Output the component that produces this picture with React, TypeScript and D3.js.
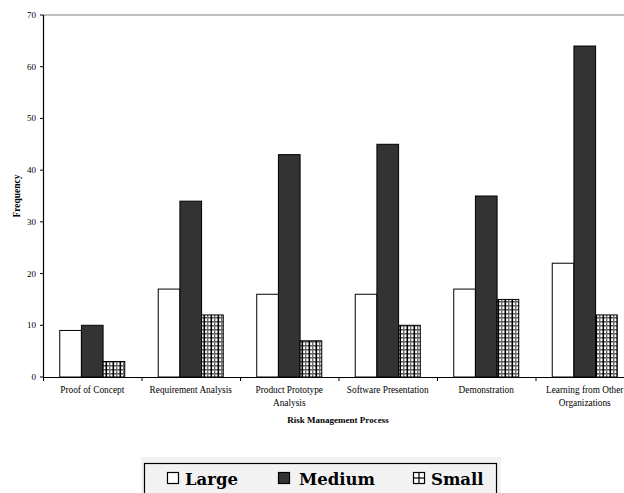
import React from "react";
import * as d3 from "d3";

const categories = [
  ["Proof of Concept"],
  ["Requirement Analysis"],
  ["Product Prototype", "Analysis"],
  ["Software Presentation"],
  ["Demonstration"],
  ["Learning from Other", "Organizations"],
];
const seriesNames = ["Large", "Medium", "Small"];
const largeValues = [9, 17, 16, 16, 17, 22];
const mediumValues = [10, 34, 43, 45, 35, 64];
const smallValues = [3, 12, 7, 10, 15, 12];
const yTicks = [0, 10, 20, 30, 40, 50, 60, 70];

const W = 624;
const H = 493;
const left = 43;
const right = 634;
const top = 15;
const bottom = 377;

export default function App() {
  const keys = categories.map((c) => c.join(" "));
  const x = d3.scaleBand().domain(keys).range([left, right]).paddingInner(0.34).paddingOuter(0.17);
  const xs = d3.scaleBand().domain(seriesNames).range([0, x.bandwidth()]);
  const y = d3.scaleLinear().domain([0, 70]).range([bottom, top]);
  const step = x.step();
  const allValues = [largeValues, mediumValues, smallValues];
  const fills = ["#ffffff", "#333333", "url(#plaid)"];
  const serif = "'Liberation Serif', 'Times New Roman', serif";

  const legendItems = [
    { name: "Large", mx: 167, tx: 185, fill: "#ffffff" },
    { name: "Medium", mx: 278, tx: 299, fill: "#333333" },
    { name: "Small", mx: 413, tx: 431, fill: "grid" },
  ];

  return (
    <svg width={W} height={H} style={{ position: "absolute", left: 0, top: 0, background: "#fff" }}>
      <defs>
        <pattern id="plaid" width="7" height="4" patternUnits="userSpaceOnUse" x="0" y={bottom}>
          <rect width="7" height="4" fill="#ffffff" />
          <rect x="0" y="0" width="7" height="1.5" fill="#5a5a5a" />
          <rect x="0.5" y="0" width="1.6" height="4" fill="#000" />
          <rect x="4" y="0" width="1.4" height="4" fill="#6a6a6a" />
        </pattern>
      </defs>

      {/* top border line */}
      <line x1={left} x2={W} y1={top} y2={top} stroke="#aaaaaa" strokeWidth={1.5} />

      {/* bars */}
      {allValues.map((vals, si) =>
        vals.map((v, ci) => (
          <rect
            key={`${si}-${ci}`}
            x={(x(keys[ci]) as number) + (xs(seriesNames[si]) as number)}
            y={y(v)}
            width={xs.bandwidth()}
            height={y(0) - y(v)}
            fill={fills[si]}
            stroke="#000"
            strokeWidth={1}
          />
        ))
      )}

      {/* y axis */}
      <line x1={left + 0.5} x2={left + 0.5} y1={top} y2={bottom} stroke="#000" strokeWidth={1.2} />
      {yTicks.map((t) => (
        <g key={t}>
          <line x1={left - 3} x2={left} y1={y(t)} y2={y(t)} stroke="#000" />
          <text x={36} y={y(t) + 3} textAnchor="end" fontFamily={serif} fontSize={9} fill="#000">
            {t}
          </text>
        </g>
      ))}

      {/* x axis */}
      <line x1={left} x2={W} y1={bottom + 0.5} y2={bottom + 0.5} stroke="#000" strokeWidth={1.2} />
      {keys.map((k) => (
        <line
          key={k}
          x1={(x(k) as number) - step * 0.17 + 0.5}
          x2={(x(k) as number) - step * 0.17 + 0.5}
          y1={bottom}
          y2={bottom + 4}
          stroke="#000"
        />
      ))}
      {categories.map((lines, i) => (
        <text
          key={i}
          x={(x(keys[i]) as number) + x.bandwidth() / 2}
          y={393}
          textAnchor="middle"
          fontFamily={serif}
          fontSize={9.3}
          fill="#000"
        >
          {lines.map((l, j) => (
            <tspan key={j} x={(x(keys[i]) as number) + x.bandwidth() / 2} dy={j === 0 ? 0 : 12.5}>
              {l}
            </tspan>
          ))}
        </text>
      ))}

      {/* axis titles */}
      <text
        x={338}
        y={423}
        textAnchor="middle"
        fontFamily={serif}
        fontSize={9}
        fontWeight="bold"
        fill="#000"
      >
        Risk Management Process
      </text>
      <text
        transform="translate(20,196) rotate(-90)"
        textAnchor="middle"
        fontFamily={serif}
        fontSize={9.5}
        fontWeight="bold"
        fill="#000"
      >
        Frequency
      </text>

      {/* legend */}
      <rect x={141} y={457} width={360} height={40} fill="#f2f2f2" />
      <rect x={144.5} y={463.5} width={352} height={40} fill="#f2f2f2" stroke="#000" strokeWidth={1.2} />
      {legendItems.map((it) => (
        <g key={it.name}>
          {it.fill === "grid" ? (
            <g>
              <rect x={it.mx + 0.5} y={472.5} width={11} height={11} fill="#fff" stroke="#000" strokeWidth={1.2} />
              <line x1={it.mx + 6} x2={it.mx + 6} y1={472.5} y2={483.5} stroke="#000" strokeWidth={1.2} />
              <line x1={it.mx + 0.5} x2={it.mx + 11.5} y1={478} y2={478} stroke="#000" strokeWidth={1.2} />
            </g>
          ) : (
            <rect x={it.mx + 0.5} y={472.5} width={11} height={11} fill={it.fill} stroke="#000" strokeWidth={1.2} />
          )}
          <text
            x={it.tx}
            y={485}
            fontFamily="'DejaVu Serif', serif"
            fontSize={16.5}
            fontWeight="bold"
            fill="#000"
          >
            {it.name}
          </text>
        </g>
      ))}
    </svg>
  );
}
